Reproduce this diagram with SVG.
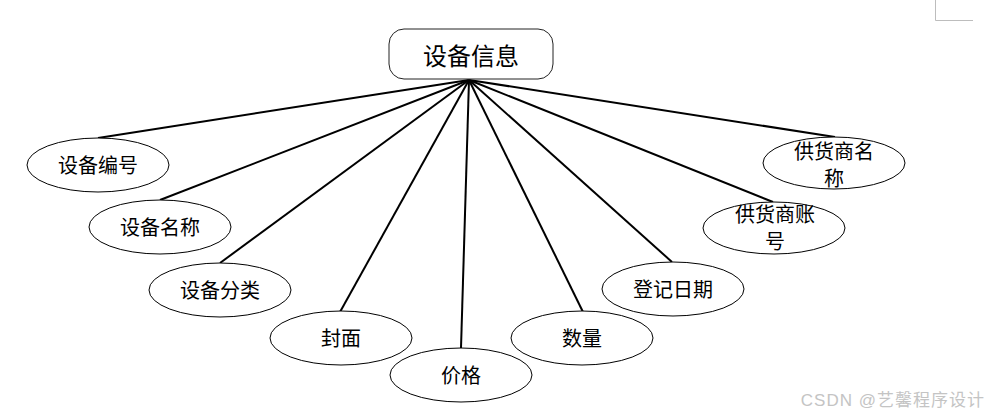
<svg xmlns="http://www.w3.org/2000/svg" width="989" height="419" viewBox="0 0 989 419">
<style>
.e{fill:#fff;stroke:#000;stroke-width:1}
.t{font-family:"Noto Sans CJK SC","Noto Sans",sans-serif;font-size:20px;fill:#000;text-anchor:middle;dominant-baseline:central}
.c{stroke:#000;stroke-width:2;fill:none}
</style>
<rect width="989" height="419" fill="#fff"/>
<path d="M935.5 0V20.5H973" fill="none" stroke="#bdbdbd" stroke-width="1"/>
<g id="connectors">
<line class="c" x1="469" y1="80" x2="98" y2="138"/>
<line class="c" x1="469" y1="80" x2="160" y2="200"/>
<line class="c" x1="469" y1="80" x2="220" y2="263"/>
<line class="c" x1="469" y1="80" x2="340" y2="312"/>
<line class="c" x1="469" y1="80" x2="461" y2="348"/>
<line class="c" x1="469" y1="80" x2="583" y2="312"/>
<line class="c" x1="469" y1="80" x2="672" y2="262"/>
<line class="c" x1="469" y1="80" x2="773" y2="202"/>
<line class="c" x1="469" y1="80" x2="835" y2="137"/>
</g>
<g id="root">
<rect x="389" y="29" width="164" height="50" rx="15" fill="#fff" stroke="#222" stroke-width="1"/>
<text class="t" x="471" y="54" style="font-size:24px">设备信息</text>
</g>
<g id="n1"><ellipse class="e" cx="98" cy="165" rx="71" ry="27"/><text class="t" x="98" y="164">设备编号</text></g>
<g id="n2"><ellipse class="e" cx="160" cy="227" rx="71" ry="27"/><text class="t" x="160" y="226">设备名称</text></g>
<g id="n3"><ellipse class="e" cx="220" cy="290" rx="71" ry="27"/><text class="t" x="220" y="289">设备分类</text></g>
<g id="n4"><ellipse class="e" cx="341" cy="338" rx="71" ry="27"/><text class="t" x="341" y="337">封面</text></g>
<g id="n5"><ellipse class="e" cx="461" cy="375" rx="71" ry="27"/><text class="t" x="461" y="374">价格</text></g>
<g id="n6"><ellipse class="e" cx="582" cy="338" rx="71" ry="27"/><text class="t" x="582" y="337">数量</text></g>
<g id="n7"><ellipse class="e" cx="673" cy="289" rx="71" ry="27"/><text class="t" x="673" y="288">登记日期</text></g>
<g id="n8"><ellipse class="e" cx="774" cy="228" rx="71" ry="26"/><text class="t" x="775" y="213">供货商账</text><text class="t" x="775" y="240">号</text></g>
<g id="n9"><ellipse class="e" cx="834" cy="163" rx="71" ry="26"/><text class="t" x="834" y="150">供货商名</text><text class="t" x="834" y="177">称</text></g>
<text x="985" y="406" text-anchor="end" font-family="'Liberation Sans','Noto Sans CJK SC',sans-serif" font-size="17" letter-spacing="1" fill="#c4c4c4">CSDN @艺馨程序设计</text>
</svg>
